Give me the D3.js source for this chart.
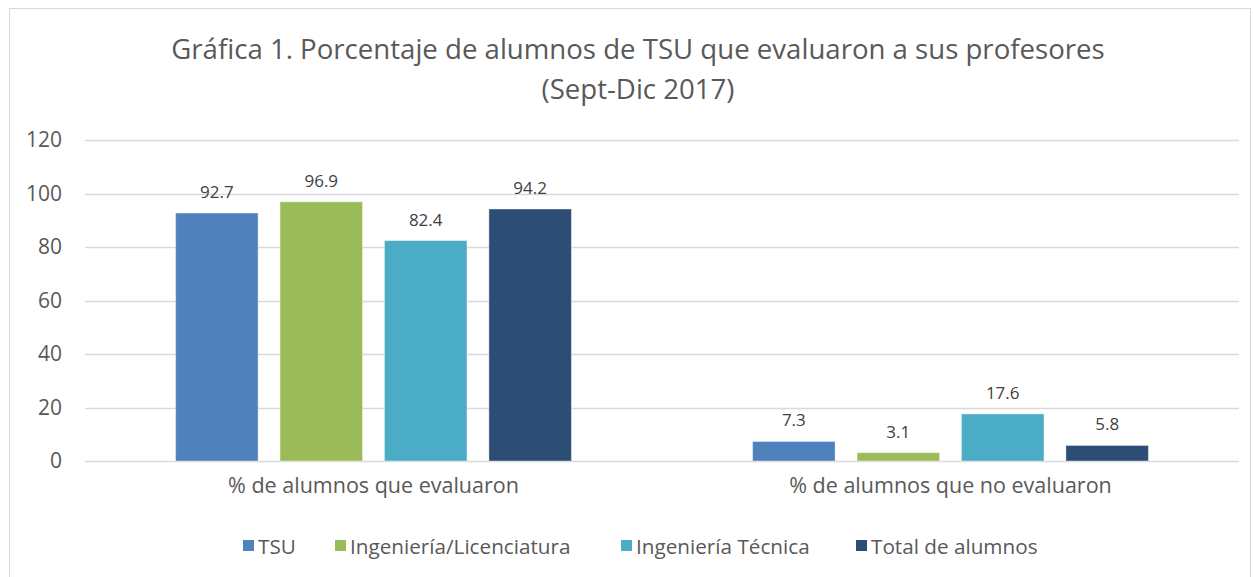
<!DOCTYPE html>
<html>
<head>
<meta charset="utf-8">
<script src="https://d3js.org/d3.v7.min.js"></script>
<style>
  body { margin: 0; background: #fff; }
  text { font-family: "Open Sans", Lato, sans-serif; }
</style>
</head>
<body>
<div id="chart"></div>
<script>
var width = 1253,
    height = 577;

// data
var categories = ["% de alumnos que evaluaron", "% de alumnos que no evaluaron"];
var seriesNames = ["TSU", "Ingeniería/Licenciatura", "Ingeniería Técnica", "Total de alumnos"];
var tsu = [92.7, 7.3];
var ingLic = [96.9, 3.1];
var ingTec = [82.4, 17.6];
var total = [94.2, 5.8];
var yTicks = [0, 20, 40, 60, 80, 100, 120];
var colors = ["#4f81bd", "#9bbb59", "#4bacc6", "#2c4d75"];

var seriesValues = [tsu, ingLic, ingTec, total];

var margin = {left: 85, right: 14, top: 140, bottom: 116};

var svg = d3.select("#chart")
    .append("svg")
    .attr("width", width)
    .attr("height", height);

// chart frame
svg.append("rect")
    .attr("x", 9.5).attr("y", 8.5)
    .attr("width", width - 12).attr("height", height - 8)
    .attr("fill", "#fff")
    .attr("stroke", "#d9d9d9");

// title
var title = svg.append("text")
    .attr("text-anchor", "middle")
    .attr("fill", "#595959")
    .style("font-size", "27.6px");
title.append("tspan").attr("x", 638).attr("y", 59)
    .text("Gráfica 1. Porcentaje de alumnos de TSU que evaluaron a sus profesores");
title.append("tspan").attr("x", 638).attr("y", 99)
    .text("(Sept-Dic 2017)");

var y = d3.scaleLinear()
    .domain([0, 120])
    .range([461, 140]);

var x0 = d3.scaleBand()
    .domain(categories)
    .range([margin.left, width - margin.right])
    .paddingInner(0.314)
    .paddingOuter(0.157);

var x1 = d3.scaleBand()
    .domain(seriesNames)
    .range([0, x0.bandwidth()])
    .paddingInner(0.21);

// gridlines
svg.append("g")
    .selectAll("line")
    .data(yTicks)
    .enter()
    .append("line")
    .attr("x1", margin.left)
    .attr("x2", width - margin.right)
    .attr("y1", function(d) { return Math.round(y(d)) + 0.5; })
    .attr("y2", function(d) { return Math.round(y(d)) + 0.5; })
    .attr("stroke", "#d9d9d9")
    .attr("stroke-width", 1.3);

// y axis labels
var yAxis = d3.axisLeft(y).tickValues(yTicks).tickSize(0).tickPadding(0);
var yg = svg.append("g")
    .attr("transform", "translate(62,0)")
    .call(yAxis);
yg.select(".domain").remove();
yg.selectAll("text")
    .attr("fill", "#595959")
    .style("font-size", "21px")
    .style("font-family", "'Open Sans', Lato, sans-serif");

// bars
var groups = svg.append("g")
    .selectAll("g")
    .data(categories)
    .enter()
    .append("g")
    .attr("transform", function(d) { return "translate(" + x0(d) + ",0)"; });

groups.selectAll("rect")
    .data(function(d, i) {
        return seriesNames.map(function(s, j) {
            return {series: s, value: seriesValues[j][i], color: colors[j]};
        });
    })
    .enter()
    .append("rect")
    .attr("x", function(d) { return x1(d.series); })
    .attr("width", x1.bandwidth())
    .attr("y", function(d) { return y(d.value); })
    .attr("height", function(d) { return y(0) - y(d.value); })
    .attr("fill", function(d) { return d.color; })
    .attr("stroke", "#fff")
    .attr("stroke-opacity", 0.4)
    .attr("stroke-width", 1);

groups.selectAll("text")
    .data(function(d, i) {
        return seriesNames.map(function(s, j) {
            return {series: s, value: seriesValues[j][i]};
        });
    })
    .enter()
    .append("text")
    .attr("x", function(d) { return x1(d.series) + x1.bandwidth() / 2; })
    .attr("y", function(d) { return y(d.value) - 15; })
    .attr("text-anchor", "middle")
    .attr("fill", "#404040")
    .style("font-size", "17px")
    .text(function(d) { return d.value.toFixed(1); });

// category labels
var xAxis = d3.axisBottom(x0).tickSize(0).tickPadding(0);
var xg = svg.append("g")
    .attr("transform", "translate(0,478)")
    .call(xAxis);
xg.select(".domain").remove();
xg.selectAll("text")
    .attr("fill", "#595959")
    .style("font-size", "21.5px")
    .style("font-family", "'Open Sans', Lato, sans-serif");

// legend
var legendX = [243, 335, 621, 856];
var legend = svg.append("g")
    .selectAll("g")
    .data(seriesNames)
    .enter()
    .append("g")
    .attr("transform", function(d, i) { return "translate(" + legendX[i] + ",540)"; });

legend.append("rect")
    .attr("width", 11).attr("height", 11)
    .attr("fill", function(d, i) { return colors[i]; });

legend.append("text")
    .attr("x", 15)
    .attr("y", 13.5)
    .attr("fill", "#595959")
    .style("font-size", "20.7px")
    .text(function(d) { return d; });
</script>
</body>
</html>
